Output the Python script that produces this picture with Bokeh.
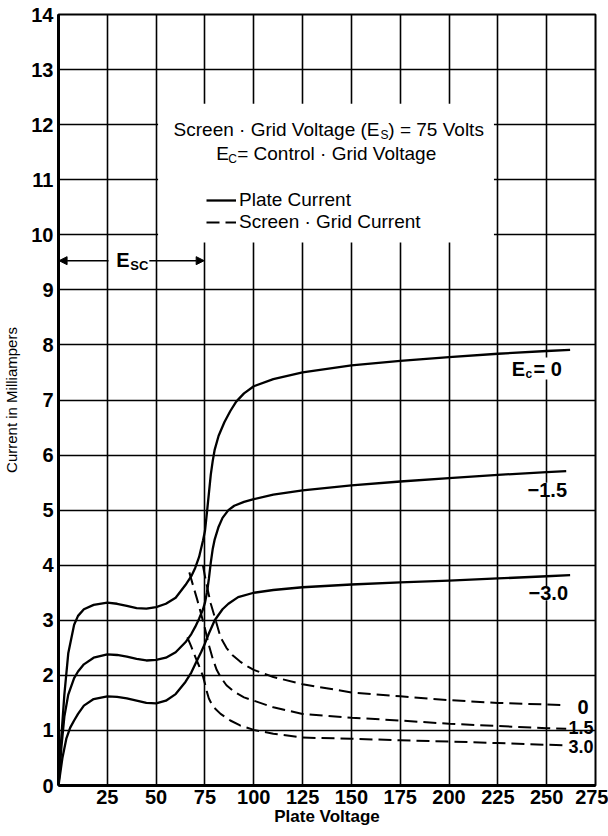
from bokeh.plotting import figure
from bokeh.models import (Range1d, FixedTicker, Label, Legend, LegendItem,
                          BoxAnnotation, Arrow, NormalHead)
from bokeh.embed import file_html
from bokeh.resources import INLINE

# ---------------- data ----------------
x_ticks = [25, 50, 75, 100, 125, 150, 175, 200, 225, 250, 275]
y_ticks = list(range(0, 15))

# Plate current, Ec = 0
plate_v_0 = [0, 1.5, 3, 5, 8, 10, 13, 18, 25, 30, 35, 40, 45, 50, 55, 60, 65, 68,
             70, 72, 74, 75, 76, 77, 78, 79, 80, 82, 85, 88, 91, 95, 100, 110, 125,
             150, 175, 200, 225, 250, 262]
plate_i_0 = [0, 0.9, 1.65, 2.4, 2.92, 3.08, 3.2, 3.28, 3.32, 3.3, 3.26, 3.22, 3.21,
             3.24, 3.3, 3.41, 3.64, 3.8, 3.95, 4.15, 4.45, 4.62, 4.95, 5.3, 5.65,
             5.9, 6.1, 6.35, 6.6, 6.8, 6.97, 7.12, 7.25, 7.38, 7.5, 7.63, 7.71,
             7.78, 7.84, 7.89, 7.91]

# Plate current, Ec = -1.5
plate_v_15 = [0, 1.5, 3, 5, 8, 10, 13, 18, 25, 30, 35, 40, 45, 50, 55, 60, 65, 68,
              70, 72, 74, 75, 76, 77, 78, 79, 80, 82, 84, 87, 90, 95, 100, 110, 125,
              150, 175, 200, 225, 250, 260]
plate_i_15 = [0, 0.7, 1.25, 1.65, 1.95, 2.07, 2.2, 2.32, 2.38, 2.37, 2.34, 2.3, 2.27,
              2.28, 2.32, 2.42, 2.6, 2.75, 2.88, 3.03, 3.2, 3.32, 3.5, 3.75, 4.05,
              4.3, 4.47, 4.7, 4.86, 5.0, 5.08, 5.15, 5.2, 5.28, 5.36, 5.45, 5.52,
              5.58, 5.64, 5.69, 5.71]

# Plate current, Ec = -3.0
plate_v_30 = [0, 2, 4, 6, 8, 10, 13, 18, 25, 30, 35, 40, 45, 50, 55, 60, 65, 68, 70,
              73, 75, 77, 80, 84, 87, 92, 100, 110, 125, 150, 175, 200, 225, 250, 262]
plate_i_30 = [0, 0.5, 0.85, 1.05, 1.18, 1.3, 1.45, 1.57, 1.62, 1.61, 1.58, 1.54, 1.5,
              1.49, 1.54, 1.66, 1.88, 2.05, 2.2, 2.42, 2.58, 2.76, 3.0, 3.2, 3.3,
              3.42, 3.5, 3.55, 3.6, 3.65, 3.69, 3.72, 3.76, 3.8, 3.82]

# Screen-grid current, Ec = 0
screen_v_0 = [74, 75, 76.5, 78, 80, 83, 86, 89, 93, 97, 100, 110, 125, 150, 175, 200,
              225, 250, 260]
screen_i_0 = [3.99, 3.8, 3.54, 3.3, 3.06, 2.69, 2.5, 2.37, 2.25, 2.16, 2.1, 1.97,
              1.84, 1.69, 1.62, 1.55, 1.5, 1.47, 1.46]

# Screen-grid current, Ec = -1.5
screen_v_15 = [67, 69, 71, 73, 75, 77, 79, 81, 83, 86, 90, 95, 100, 110, 125, 150,
               175, 200, 225, 250, 260]
screen_i_15 = [3.87, 3.62, 3.38, 3.12, 2.85, 2.55, 2.3, 2.1, 1.97, 1.82, 1.7, 1.6,
               1.54, 1.42, 1.3, 1.23, 1.18, 1.12, 1.08, 1.04, 1.03]

# Screen-grid current, Ec = -3.0
screen_v_30 = [66, 68, 70, 72, 74, 75, 76, 77, 79, 83, 88, 93, 100, 110, 125, 150,
               175, 200, 225, 250, 260]
screen_i_30 = [2.69, 2.52, 2.34, 2.17, 1.98, 1.85, 1.7, 1.58, 1.44, 1.3, 1.18, 1.09,
               1.01, 0.94, 0.87, 0.85, 0.82, 0.8, 0.77, 0.74, 0.73]

plate_curves = [(plate_v_0, plate_i_0), (plate_v_15, plate_i_15), (plate_v_30, plate_i_30)]
screen_curves = [(screen_v_0, screen_i_0), (screen_v_15, screen_i_15), (screen_v_30, screen_i_30)]

FONT = "Liberation Sans"

p = figure(width=608, height=834, output_backend="svg", toolbar_location=None,
           x_range=Range1d(0, 275), y_range=Range1d(0, 14),
           min_border_left=57, min_border_right=13, min_border_top=14, min_border_bottom=49)
p.title.visible = False
p.background_fill_color = "white"
p.border_fill_color = "white"
p.outline_line_color = "black"
p.outline_line_width = 2

# grid
p.xgrid.ticker = FixedTicker(ticks=x_ticks[:-1])
p.ygrid.ticker = FixedTicker(ticks=y_ticks[1:-1])
for g in (p.xgrid, p.ygrid):
    g.grid_line_color = "black"
    g.grid_line_width = 1.6
    g.grid_line_alpha = 1.0

# axes
p.xaxis.ticker = FixedTicker(ticks=x_ticks)
p.yaxis.ticker = FixedTicker(ticks=y_ticks)
for ax in (p.xaxis, p.yaxis):
    ax.axis_line_width = 3
    ax.axis_line_color = "black"
    ax.major_tick_line_color = None
    ax.minor_tick_line_color = None
    ax.major_tick_out = 0
    ax.major_tick_in = 0
    ax.minor_tick_out = 0
    ax.minor_tick_in = 0
    ax.major_label_text_font = FONT
    ax.major_label_text_font_style = "bold"
    ax.major_label_text_font_size = "20px"
    ax.major_label_text_color = "black"
    ax.axis_label_text_font = FONT
    ax.axis_label_text_color = "black"
p.xaxis.major_label_standoff = 4
p.xaxis.axis_label = "Plate Voltage"
p.xaxis.axis_label_text_font_size = "17px"
p.xaxis.axis_label_text_font_style = "bold"
p.xaxis.axis_label_standoff = 0
p.yaxis.major_label_standoff = 5
p.yaxis.axis_label = "Current in Milliampers"
p.yaxis.axis_label_text_font_size = "15px"
p.yaxis.axis_label_text_font_style = "normal"
p.yaxis.axis_label_standoff = 8

# white area behind the annotation text (interrupts grid lines)
p.add_layout(BoxAnnotation(left=51, right=223, bottom=9.86, top=12.38,
                           fill_color="white", fill_alpha=1.0, line_alpha=0))

# curves
plate_r = []
for xs, ys in plate_curves:
    plate_r.append(p.line(xs, ys, line_color="black", line_width=2.3, line_join="round"))
screen_r = []
for xs, ys in screen_curves:
    screen_r.append(p.line(xs, ys, line_color="black", line_width=2.0,
                           line_dash="13 6", line_join="round"))

# legend
legend = Legend(items=[LegendItem(label="Plate Current", renderers=[plate_r[0]]),
                       LegendItem(label="Screen · Grid Current", renderers=[screen_r[0]])],
                location=(148, 552), orientation="vertical",
                background_fill_alpha=0, border_line_alpha=0,
                padding=0, margin=0, spacing=0, glyph_width=30, glyph_height=18,
                label_height=18, label_standoff=3,
                label_text_font=FONT, label_text_font_size="19px",
                label_text_color="black")
p.add_layout(legend)


def lab(x, y, text, size="19px", style="normal", align="left", yoff=0, xoff=0, bg=None):
    kw = {}
    if bg:
        kw = dict(background_fill_color=bg, background_fill_alpha=1.0)
    p.add_layout(Label(x=x, y=y, text=text, text_font=FONT, text_font_size=size,
                       text_font_style=style, text_align=align, text_baseline="middle",
                       x_offset=xoff, y_offset=yoff, text_color="black", **kw))


# header texts
lab(164.4, 11.91, "Screen · Grid Voltage (E", align="right")
lab(164.9, 11.91, "S", size="12px", yoff=-5)
lab(168.9, 11.91, ") = 75 Volts")
lab(80.8, 11.47, "E")
lab(86.9, 11.47, "C", size="12px", yoff=-5)
lab(91.5, 11.47, "= Control · Grid Voltage")

# Esc span
head = dict(size=8, fill_color="black", line_color="black")
p.add_layout(Arrow(x_start=25.6, y_start=9.53, x_end=0.3, y_end=9.53,
                   line_width=1.5, end=NormalHead(**head)))
p.add_layout(Arrow(x_start=46.5, y_start=9.53, x_end=74.6, y_end=9.53,
                   line_width=1.5, end=NormalHead(**head)))
lab(29.6, 9.54, "E", size="20px", style="bold")
lab(36.8, 9.54, "SC", size="13px", style="bold", yoff=-5)

# curve labels
lab(232.1, 7.57, "E", size="20px", style="bold")
lab(239.2, 7.57, "c", size="12px", style="bold", yoff=-5)
lab(243.3, 7.57, "= 0", size="20px", style="bold", bg="white")
lab(240.2, 5.37, "−1.5", size="20px", style="bold", bg="white")
lab(240.7, 3.49, "−3.0", size="20px", style="bold", bg="white")
lab(265.8, 1.42, "0", size="20px", style="bold")
lab(261.2, 1.05, "1.5", size="18px", style="bold")
lab(261.2, 0.70, "3.0", size="18px", style="bold")

open("out.html", "w").write(file_html(p, INLINE))
